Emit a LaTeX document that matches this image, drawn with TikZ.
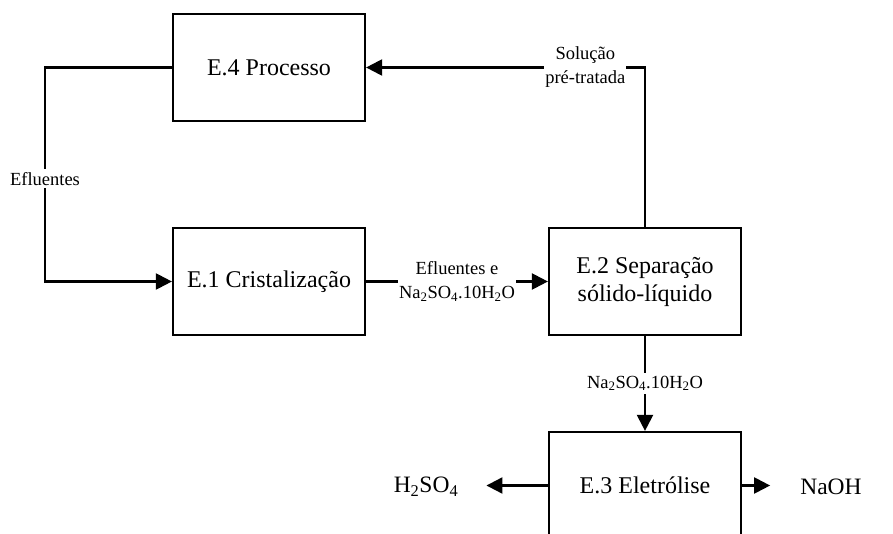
\documentclass[tikz,border=0pt]{standalone}
\usepackage{fontspec}
\setmainfont{Liberation Serif}
\usetikzlibrary{arrows.meta}

\tikzset{
  stage/.style={draw, line width=2.2pt, minimum width=192pt, minimum height=107pt,
    inner sep=0pt, align=center, font=\fontsize{24}{28}\selectfont},
  flow/.style={line width=2.2pt, -{Triangle[length=16pt,width=16pt]}},
  tag/.style={fill=white, inner xsep=1pt, inner ysep=3pt, align=center,
    font=\fontsize{18.5}{24}\selectfont},
  product/.style={inner sep=0pt, font=\fontsize{23.5}{28}\selectfont}
}

\newcommand{\sulfato}{Na\textsubscript{2}SO\textsubscript{4}.10H\textsubscript{2}O}

\begin{document}
\begin{tikzpicture}[x=1pt, y=-1pt]
  \clip (0,0) rectangle (893,534);

  % process stages
  \node[stage] (e4) at (269,67.5)  {E.4 Processo};
  \node[stage] (e1) at (269,281.5) {E.1 Cristalização};
  \node[stage] (e2) at (645,281.5) {E.2 Separação\\sólido-líquido};
  \node[stage] (e3) at (645,485.5) {E.3 Eletrólise};

  % final products
  \node[product] (acid) at (426,487) {H\textsubscript{2}SO\textsubscript{4}};
  \node[product] (base) at (831,487) {NaOH};

  % effluent loop from the process back to crystallisation
  \coordinate (loop) at (45,67.5);
  \draw[flow] (e4.west) -- (loop) |- node[tag, pos=0.26] {Efluentes} (e1.west);

  % crystallisation to separation
  \draw[flow] (e1.east) -- node[tag] {Efluentes e\\\sulfato} (e2.west);

  % pre-treated solution returned to the process
  \draw[flow] (e2.north) |- node[tag, pos=0.607] {Solução\\pré-tratada} (e4.east);

  % separated salt to electrolysis
  \draw[flow] (e2.south) -- node[tag] {\sulfato} (e3.north);

  % electrolysis products
  \draw[flow, shorten >=28pt] (e3.west) -- (acid.east |- e3.west);
  \draw[flow, shorten >=30pt] (e3.east) -- (base.west |- e3.east);
\end{tikzpicture}
\end{document}
